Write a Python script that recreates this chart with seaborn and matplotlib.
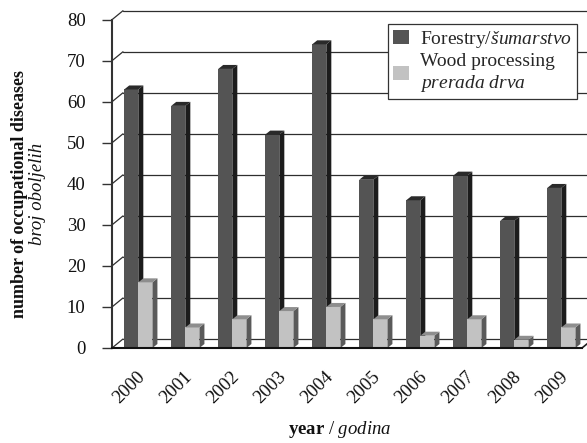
import matplotlib
matplotlib.use("Agg")
import matplotlib.pyplot as plt
import matplotlib.transforms as mtransforms
from matplotlib.patches import Polygon, Patch
import numpy as np
import pandas as pd
import seaborn as sns

# Occupational diseases per year
years = ["2000", "2001", "2002", "2003", "2004", "2005", "2006", "2007", "2008", "2009"]
forestry = [63, 59, 68, 52, 74, 41, 36, 42, 31, 39]
wood_processing = [16, 5, 7, 9, 10, 7, 3, 7, 2, 5]
series_names = ["Forestry", "Wood processing"]
legend_labels = ["Forestry/$\\mathit{šumarstvo}$",
                 "Wood processing\n$\\mathit{prerada\\ drva}$"]
y_ticks = [0, 10, 20, 30, 40, 50, 60, 70, 80]

sns.set_theme(style="white")
plt.rcParams.update({
    "font.family": ["Liberation Serif", "DejaVu Serif"],
    "mathtext.fontset": "custom",
    "mathtext.rm": "Liberation Serif",
    "mathtext.it": "Liberation Serif:italic",
    "mathtext.bf": "Liberation Serif:bold",
})

df = pd.DataFrame({
    "year": years * 2,
    "count": forestry + wood_processing,
    "sector": [series_names[0]] * len(years) + [series_names[1]] * len(years),
})

front_colors = {series_names[0]: "#545454", series_names[1]: "#c2c2c2"}
shade_colors = [("#1c1c1c", "#2a2a2a"), ("#5a5a5a", "#8e8e8e")]

W, H, DPI = 587, 443, 100
fig = plt.figure(figsize=(W / DPI, H / DPI), dpi=DPI)
ax = fig.add_axes([112 / W, 95 / H, 470 / W, 328.3 / H])

sns.barplot(data=df, x="year", y="count", hue="sector", hue_order=series_names,
            palette=front_colors, width=0.6, saturation=1, errorbar=None,
            legend=False, linewidth=0, ax=ax)

ax.set_xlim(-0.56, 9.44)
ax.set_ylim(0, 80)


def px_to_data(dx_px, dy_px):
    origin = ax.transData.transform((0, 0))
    pt = ax.transData.inverted().transform(origin + np.array([dx_px, dy_px]))
    return pt[0], pt[1]


x_left, x_right = ax.get_xlim()
wall_dx, wall_dy = px_to_data(11, 9)
bar_dx, bar_dy = px_to_data(5, 4)

# back wall gridlines with the slanted connectors to the front axis
for t in y_ticks:
    ax.plot([x_left, x_left + wall_dx], [t, t + wall_dy], color="#2e2e2e",
            lw=0.9, clip_on=False, zorder=1)
    ax.plot([x_left + wall_dx, x_right + 2 * wall_dx], [t + wall_dy, t + wall_dy],
            color="#2e2e2e", lw=0.9, clip_on=False, zorder=1)

# floor edge on the right
ax.plot([x_right, x_right + wall_dx], [0, wall_dy], color="#222222", lw=1.2,
        clip_on=False, zorder=4)

# side and top faces give the bars depth
for z, container, (side_c, top_c) in zip([2, 3], ax.containers, shade_colors):
    for bar in container.patches:
        bar.set_zorder(z)
        x0, w, h = bar.get_x(), bar.get_width(), bar.get_height()
        side = Polygon([(x0 + w, 0), (x0 + w + bar_dx, bar_dy),
                        (x0 + w + bar_dx, h + bar_dy), (x0 + w, h)],
                       closed=True, facecolor=side_c, edgecolor="none",
                       zorder=z + 0.1, clip_on=False)
        top = Polygon([(x0, h), (x0 + bar_dx, h + bar_dy),
                       (x0 + w + bar_dx, h + bar_dy), (x0 + w, h)],
                      closed=True, facecolor=top_c, edgecolor="none",
                      zorder=z + 0.1, clip_on=False)
        ax.add_patch(side)
        ax.add_patch(top)

for s in ["top", "right"]:
    ax.spines[s].set_visible(False)
ax.spines["left"].set_color("#333333")
ax.spines["left"].set_linewidth(1.5)
ax.spines["bottom"].set_color("#111111")
ax.spines["bottom"].set_linewidth(1.5)
ax.spines["left"].set_zorder(5)
ax.spines["bottom"].set_zorder(5)

ax.set_yticks(y_ticks)
ax.tick_params(axis="y", direction="out", length=7, width=1, color="#333333",
               pad=12, labelsize=13.5, labelcolor="#111111", left=True)
ax.tick_params(axis="x", length=0, pad=19, labelsize=13.5, labelcolor="#111111")
ax.set_xticks(range(len(years)))
ax.set_xticklabels(years, rotation=45, ha="right", va="center",
                   rotation_mode="anchor")
shift = mtransforms.ScaledTranslation(3 / 72, 0, fig.dpi_scale_trans)
for lbl in ax.get_xticklabels():
    lbl.set_transform(lbl.get_transform() + shift)

ax.set_xlabel("")
ax.set_ylabel("")
ax.grid(False)

fig.text(288 / W, 1 - 430 / H, "$\\mathbf{year}$ / $\\mathit{godina}$",
         fontsize=13.5, ha="left", va="center", color="#111111")
fig.text(20 / W, 1 - 194 / H, "number of occupational diseases", rotation=90,
         fontsize=13, fontweight="bold", ha="center", va="center", color="#111111")
fig.text(38 / W, 1 - 194 / H, "broj oboljelih", rotation=90, fontsize=13.5,
         fontstyle="italic", ha="center", va="center", color="#111111")

handles = [Patch(facecolor=front_colors[n], edgecolor="none") for n in series_names]
leg = ax.legend(handles, legend_labels, loc="upper right",
                bbox_to_anchor=(577 / W, 1 - 24 / H), bbox_transform=fig.transFigure,
                borderaxespad=0, fontsize=14, frameon=True, fancybox=False,
                framealpha=1, edgecolor="#333333", handlelength=0.85,
                handleheight=0.75, handletextpad=0.55, borderpad=0.25,
                labelspacing=0.15)
leg.get_frame().set_linewidth(0.9)
leg.set_zorder(10)

fig.savefig("out.png", dpi=DPI)
